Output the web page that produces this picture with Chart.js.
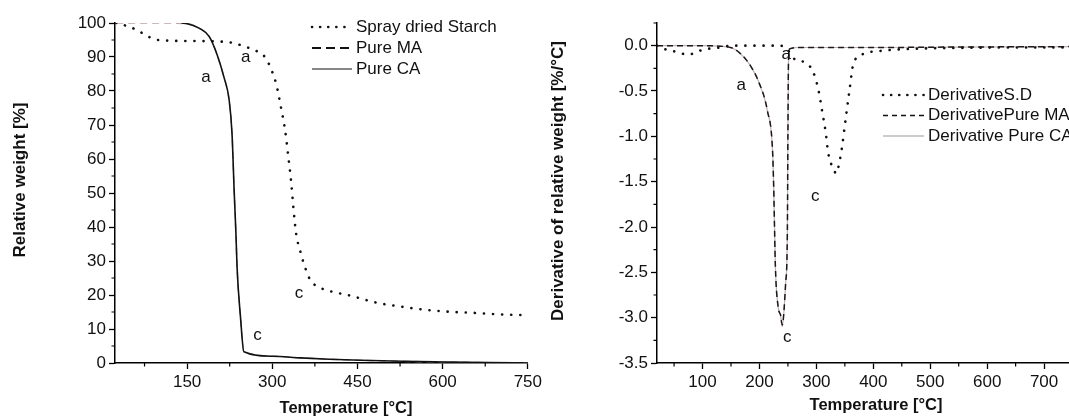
<!DOCTYPE html>
<html>
<head>
<meta charset="utf-8">
<script src="https://cdn.jsdelivr.net/npm/chart.js@4.4.1/dist/chart.umd.min.js"></script>
<style>
  body { margin: 0; background: #fff; overflow: hidden; width: 1069px; height: 419px; position: relative; }
  #left { position: absolute; left: 0; top: 0; }
  #right { position: absolute; left: 545px; top: 0; }
</style>
</head>
<body>
<canvas id="left" width="545" height="419"></canvas>
<canvas id="right" width="580" height="419"></canvas>
<script>
// ---- left panel: TGA curves ----
const sdTemp = [25, 32, 45, 61, 78, 93, 120, 160, 200, 229, 253, 272, 288, 299, 307, 316, 323, 328, 334, 337, 342, 349, 358, 367, 386, 410, 433, 485, 530, 572, 620, 660, 700, 740];
const sdWeight = [100, 99.8, 99, 98, 96.3, 95.2, 94.8, 94.7, 94.6, 94.2, 93, 91.8, 89.8, 86, 82, 74.5, 68, 61, 52, 46, 38, 33, 28, 24.4, 22, 20.8, 20, 17.7, 16.5, 15.6, 15, 14.7, 14.3, 14.1];
const maTemp = [25, 100, 150, 171, 189, 203, 215, 224, 229, 233, 236, 238, 244, 250, 300, 350, 400, 456, 530, 600, 680, 750];
const maWeight = [100, 100, 99.8, 98.5, 96, 90.6, 84, 77.4, 67.7, 50, 38, 28, 13.5, 3.3, 2.0, 1.5, 1.1, 0.8, 0.5, 0.3, 0.1, 0];
const caTemp = [140, 150, 171, 189, 203, 215, 224, 229, 233, 236, 238, 244, 250, 300, 350, 400, 456, 530, 600, 680, 750];
const caWeight = [100, 99.8, 98.5, 96, 90.6, 84, 77.4, 67.7, 50, 38, 28, 13.5, 3.3, 2.0, 1.5, 1.1, 0.8, 0.5, 0.3, 0.1, 0];
const leftXTicks = [150, 300, 450, 600, 750];
const leftXMinor = [75, 225, 375, 525, 675];
const leftYTicks = [0, 10, 20, 30, 40, 50, 60, 70, 80, 90, 100];
const leftYMinor = [5, 15, 25, 35, 45, 55, 65, 75, 85, 95];
const leftLabels = [{t: 'a', x: 183, y: 84}, {t: 'a', x: 253, y: 90}, {t: 'c', x: 274, y: 8.2}, {t: 'c', x: 347, y: 20.6}];

// ---- right panel: derivative curves ----
const dsdTemp = [20, 26, 40, 56, 74, 90, 102, 117, 132, 150, 200, 237, 250, 262, 282, 295, 304, 310, 316, 321, 330, 335, 340, 345, 351, 358, 365, 383, 418, 465, 550, 650, 760];
const dsdValue = [0, -0.02, -0.05, -0.07, -0.1, -0.07, -0.04, -0.03, -0.02, 0, 0, 0, -0.05, -0.15, -0.19, -0.3, -0.5, -0.72, -0.94, -1.19, -1.36, -1.41, -1.3, -1.12, -0.83, -0.5, -0.2, -0.09, -0.055, -0.035, -0.025, -0.02, -0.02];
const dmaTemp = [20, 100, 149, 167, 184, 198, 214, 223, 225, 228, 233, 237, 240, 246, 249, 250, 251, 253, 270, 400, 550, 760];
const dmaValue = [0, 0, -0.02, -0.09, -0.22, -0.39, -0.72, -1.16, -1.56, -2.44, -2.89, -2.97, -3.08, -2.62, -2.07, -0.97, -0.17, -0.035, -0.02, -0.02, -0.015, -0.01];
const dcaTemp = [20, 100, 149, 167, 184, 198, 214, 223, 225, 228, 233, 237, 240, 246, 249, 250, 251, 253, 270, 400, 550, 760];
const dcaValue = [0, 0, -0.02, -0.09, -0.22, -0.39, -0.72, -1.16, -1.56, -2.44, -2.89, -2.97, -3.1, -2.62, -2.07, -0.97, -0.17, -0.035, -0.02, -0.02, -0.015, -0.01];
const rightXTicks = [100, 200, 300, 400, 500, 600, 700];
const rightXMinor = [50, 150, 250, 350, 450, 550, 650, 750];
const rightYTicks = [-3.5, -3.0, -2.5, -2.0, -1.5, -1.0, -0.5, 0.0];
const rightYMinor = [-3.25, -2.75, -2.25, -1.75, -1.25, -0.75, -0.25, 0.25];
const rightLabels = [{t: 'a', x: 168, y: -0.44}, {t: 'a', x: 247, y: -0.09}, {t: 'c', x: 249, y: -3.22}, {t: 'c', x: 298, y: -1.66}];

const FONT = '"Liberation Sans", Arial, sans-serif';
const pts = (xs, ys) => xs.map((x, i) => ({x: x, y: ys[i]}));

// minor ticks, axis titles, legend and a/c letters
const extras = {
  id: 'extras',
  afterDraw(chart, args, o) {
    const {ctx, chartArea: ca, scales: {x, y}} = chart;
    ctx.save();
    ctx.strokeStyle = '#000';
    ctx.lineWidth = 1.2;
    ctx.beginPath();
    o.xMinor.forEach(v => { const px = x.getPixelForValue(v); ctx.moveTo(px, ca.bottom); ctx.lineTo(px, ca.bottom + 3.5); });
    o.yMinor.forEach(v => { const py = y.getPixelForValue(v); ctx.moveTo(ca.left, py); ctx.lineTo(ca.left - 3.5, py); });
    ctx.stroke();

    ctx.fillStyle = '#111';
    ctx.textAlign = 'center';
    ctx.textBaseline = 'middle';
    ctx.font = 'bold 16.5px ' + FONT;
    ctx.fillText(o.xTitle, o.xTitlePos[0], o.xTitlePos[1]);
    ctx.save();
    ctx.translate(o.yTitlePos[0], o.yTitlePos[1]);
    ctx.rotate(-Math.PI / 2);
    ctx.font = 'bold 17px ' + FONT;
    ctx.fillText(o.yTitle, 0, 0);
    ctx.restore();

    ctx.font = '17px ' + FONT;
    o.labels.forEach(l => ctx.fillText(l.t, x.getPixelForValue(l.x), y.getPixelForValue(l.y)));

    ctx.textAlign = 'left';
    o.legend.forEach((item, i) => {
      const yy = o.ly + i * o.gap;
      ctx.beginPath();
      ctx.strokeStyle = item.color;
      ctx.lineWidth = item.width;
      ctx.lineCap = item.cap || 'butt';
      ctx.setLineDash(item.dash);
      ctx.moveTo(o.lx, yy);
      ctx.lineTo(o.lx + o.len, yy);
      ctx.stroke();
      ctx.setLineDash([]);
      ctx.fillText(item.text, o.lx + o.len + 4, yy);
    });
    ctx.restore();
  }
};
Chart.register(extras);

function axisOpts(min, max, tickVals, width, height, fmt, isY) {
  return {
    type: 'linear',
    min: min,
    max: max,
    afterBuildTicks: s => { s.ticks = tickVals.map(v => ({value: v})); },
    afterFit: s => { if (isY) s.width = width; else s.height = height; },
    grid: {drawOnChartArea: false, drawTicks: true, tickLength: 6, tickWidth: 1.3, tickColor: '#000'},
    border: {display: true, color: '#000', width: 1.5},
    ticks: {font: {family: FONT, size: 17}, color: '#111', padding: 3, maxRotation: 0, autoSkip: false,
            callback: v => fmt(v)},
    title: {display: false}
  };
}

function baseOptions(padding, xAxis, yAxis, extrasOpts) {
  return {
    responsive: false,
    animation: false,
    layout: {padding: padding},
    elements: {point: {radius: 0}, line: {cubicInterpolationMode: 'monotone'}},
    plugins: {legend: {display: false}, tooltip: {enabled: false}, extras: extrasOpts},
    scales: {x: xAxis, y: yAxis}
  };
}

const dotted = {borderColor: '#111', borderWidth: 2.6, borderDash: [0.1, 9], borderCapStyle: 'round'};

// first dataset is painted on top
new Chart(document.getElementById('left'), {
  type: 'line',
  data: {datasets: [
    Object.assign({label: 'Spray dried Starch', data: pts(sdTemp, sdWeight)}, dotted),
    {label: 'Pure CA', data: pts(caTemp, caWeight), borderColor: '#111', borderWidth: 1.6},
    {label: 'Pure MA', data: pts(maTemp, maWeight), borderColor: '#bda2a2', borderWidth: 1.5, borderDash: [7, 5]}
  ]},
  options: baseOptions({left: 0, right: 14, top: 23, bottom: 0},
    axisOpts(23, 750, leftXTicks, 0, 56, v => String(v), false),
    axisOpts(0, 100, leftYTicks, 115, 0, v => String(v), true),
    {xMinor: leftXMinor, yMinor: leftYMinor, labels: leftLabels,
     xTitle: 'Temperature [°C]', xTitlePos: [346, 408],
     yTitle: 'Relative weight [%]', yTitlePos: [20, 180],
     lx: 312, ly: 27, gap: 21, len: 40,
     legend: [
       {text: 'Spray dried Starch', dash: [0.1, 8], color: '#111', width: 2.6, cap: 'round'},
       {text: 'Pure MA', dash: [9, 5], color: '#111', width: 2},
       {text: 'Pure CA', dash: [], color: '#111', width: 1.2}
     ]})
});

new Chart(document.getElementById('right'), {
  type: 'line',
  data: {datasets: [
    Object.assign({label: 'DerivativeS.D', data: pts(dsdTemp, dsdValue)}, dotted),
    {label: 'DerivativePure MA', data: pts(dmaTemp, dmaValue), borderColor: '#1a1a1a', borderWidth: 1.5, borderDash: [6, 4]},
    {label: 'Derivative Pure CA', data: pts(dcaTemp, dcaValue), borderColor: '#c4aeae', borderWidth: 1.2}
  ]},
  options: baseOptions({left: 0, right: 24, top: 23, bottom: 0},
    axisOpts(20, 800, rightXTicks, 0, 56, v => String(v), false),
    axisOpts(-3.5, 0.25, rightYTicks, 112, 0, v => v.toFixed(1), true),
    {xMinor: rightXMinor, yMinor: rightYMinor, labels: rightLabels,
     xTitle: 'Temperature [°C]', xTitlePos: [331, 405],
     yTitle: 'Derivative of relative weight [%/°C]', yTitlePos: [13, 181],
     lx: 338, ly: 95, gap: 20.5, len: 41,
     legend: [
       {text: 'DerivativeS.D', dash: [0.1, 8], color: '#111', width: 2.6, cap: 'round'},
       {text: 'DerivativePure MA', dash: [5, 4], color: '#111', width: 1.5},
       {text: 'Derivative Pure CA', dash: [], color: '#999', width: 1}
     ]})
});
</script>
</body>
</html>
